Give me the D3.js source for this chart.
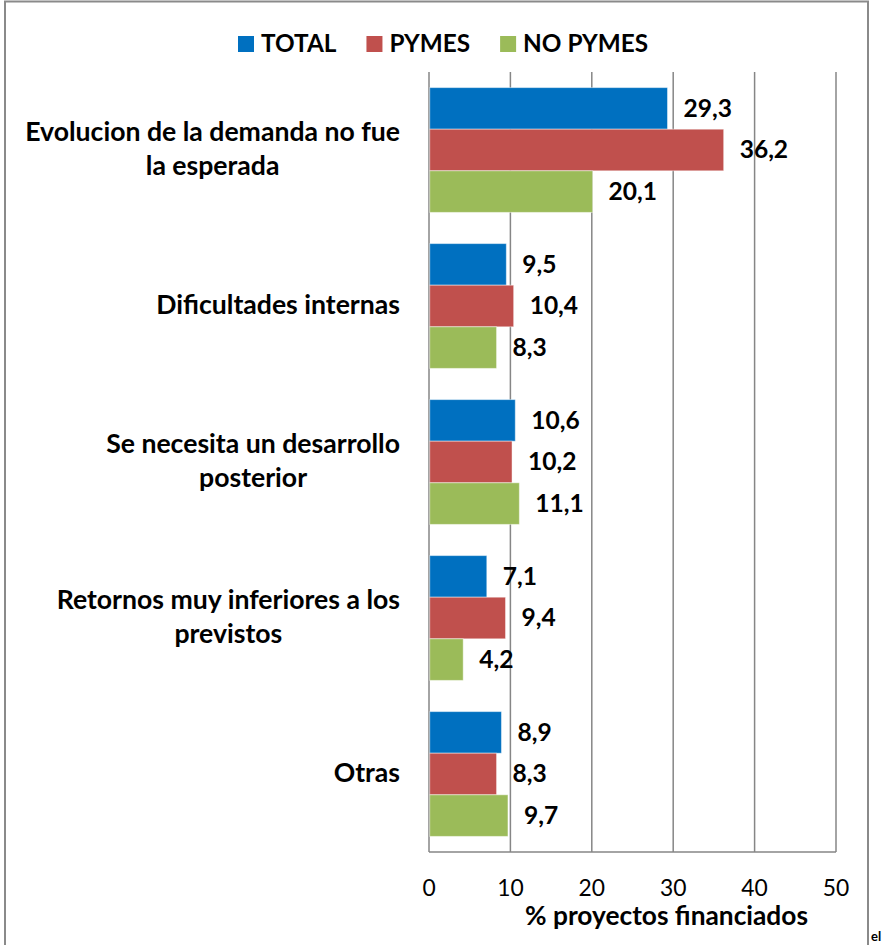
<!DOCTYPE html>
<html>
<head>
<meta charset="utf-8">
<script src="https://cdn.jsdelivr.net/npm/d3@7/dist/d3.min.js"></script>
<style>
  html, body { margin: 0; padding: 0; background: #fff; }
  svg { display: block; }
  text { font-family: Lato, "Open Sans", sans-serif; fill: #000; }
</style>
</head>
<body>
<svg id="chart" width="883" height="945"></svg>
<script>
// ---- data ----
const categories = [
  ["Evolucion de la demanda no fue", "la esperada"],
  ["Dificultades internas"],
  ["Se necesita un desarrollo", "posterior"],
  ["Retornos muy inferiores a los", "previstos"],
  ["Otras"]
];
const seriesNames = ["TOTAL", "PYMES", "NO PYMES"];
const totalValues  = [29.3, 9.5, 10.6, 7.1, 8.9];
const pymesValues  = [36.2, 10.4, 10.2, 9.4, 8.3];
const noPymesValues = [20.1, 8.3, 11.1, 4.2, 9.7];
const xTicks = [0, 10, 20, 30, 40, 50];
const axisTitle = "% proyectos financiados";
const colors = ["#0070C0", "#C0504D", "#9BBB59"];

(function () {
const seriesValues = [totalValues, pymesValues, noPymesValues];
const rows = categories.map((c, i) => ({ idx: i, label: c, vals: seriesValues.map(s => s[i]) }));

const svg = d3.select("#chart");
const fmt = d3.formatLocale({ decimal: ",", thousands: ".", grouping: [3], currency: ["", ""] }).format(".1f");

function fitSize(str, weight, target) {
  const t = svg.append("text").attr("font-size", 100).attr("font-weight", weight).text(str);
  const w = t.node().getComputedTextLength();
  t.remove();
  return 100 * target / w;
}
const catSize = fitSize("Evolucion de la demanda no fue", "bold", 375);
const valSize = fitSize("36,2", "bold", 48.5);
const tickSize = fitSize("50", "normal", 26.5);
const titleSize = fitSize(axisTitle, "bold", 283);
const legSize = fitSize("NO PYMES", "bold", 125);

// frame
svg.append("rect").attr("x", 5).attr("y", 1.5).attr("width", 863).attr("height", 960)
  .attr("fill", "none").attr("stroke", "#8a8a8a").attr("stroke-width", 2);

// scales
const pLeft = 429, pRight = 836, pTop = 72, pBottom = 852;
const x = d3.scaleLinear().domain([0, 50]).range([pLeft, pRight]);
const y = d3.scaleBand().domain(rows.map(r => r.idx)).range([pTop, pBottom]).paddingInner(0.2).paddingOuter(0.1);
const ySub = d3.scaleBand().domain(seriesNames.map((s, i) => i)).range([0, y.bandwidth()]).padding(0);

// gridlines
svg.append("g").selectAll("line").data(xTicks).join("line")
  .attr("x1", d => x(d)).attr("x2", d => x(d))
  .attr("y1", pTop).attr("y2", pBottom)
  .attr("stroke", "#868686").attr("stroke-width", 1.5);
svg.append("line").attr("x1", x(0)).attr("x2", x(50)).attr("y1", pBottom).attr("y2", pBottom)
  .attr("stroke", "#868686").attr("stroke-width", 1.5);

// bars
const groups = svg.append("g").selectAll("g").data(rows).join("g")
  .attr("transform", d => `translate(0,${y(d.idx)})`);
groups.selectAll("rect").data(d => d.vals.map((v, i) => ({ v, i }))).join("rect")
  .attr("x", x(0) + 0.75)
  .attr("y", d => ySub(d.i))
  .attr("width", d => x(d.v) - x(0) - 0.75)
  .attr("height", ySub.bandwidth())
  .attr("fill", d => colors[d.i])
  .attr("stroke", "rgba(255,255,255,0.45)").attr("stroke-width", 1);

// value labels
groups.selectAll("text.val").data(d => d.vals.map((v, i) => ({ v, i }))).join("text")
  .attr("class", "val")
  .attr("x", d => x(d.v) + 16)
  .attr("y", d => ySub(d.i) + ySub.bandwidth() / 2 + 8.5)
  .attr("font-size", valSize).attr("font-weight", "bold")
  .text(d => fmt(d.v));

// category labels
const catX = 400, lineGap = 34;
rows.forEach(r => {
  const cy = y(r.idx) + y.bandwidth() / 2;
  const n = r.label.length;
  const t = svg.append("text").attr("font-size", catSize).attr("font-weight", "bold");
  if (n === 1) {
    t.attr("x", catX).attr("y", cy + 7.5).attr("text-anchor", "end").text(r.label[0]);
  } else {
    const tmp = svg.append("text").attr("font-size", catSize).attr("font-weight", "bold").text(r.label[0]);
    const w = tmp.node().getComputedTextLength(); tmp.remove();
    const center = catX - w / 2;
    r.label.forEach((ln, k) => {
      t.append("tspan").attr("x", center).attr("text-anchor", "middle")
        .attr("y", cy + 7.5 + (k - (n - 1) / 2) * lineGap).text(ln);
    });
  }
});

// x tick labels
svg.append("g").selectAll("text").data(xTicks).join("text")
  .attr("x", d => x(d)).attr("y", 896)
  .attr("text-anchor", "middle").attr("font-size", tickSize)
  .text(d => d);

// axis title
svg.append("text").attr("x", 666.5).attr("y", 924.5).attr("text-anchor", "middle")
  .attr("font-size", titleSize).attr("font-weight", "bold").text(axisTitle);

// legend
let lx = 238;
const leg = svg.append("g");
seriesNames.forEach((s, i) => {
  leg.append("rect").attr("x", lx).attr("y", 36).attr("width", 16).attr("height", 16).attr("fill", colors[i]);
  const t = leg.append("text").attr("x", lx + 23).attr("y", 51.5)
    .attr("font-size", legSize).attr("font-weight", "bold").text(s);
  lx = lx + 23 + t.node().getComputedTextLength() + 30;
});

svg.append("text").attr("x", 871).attr("y", 941).attr("font-size", 13).attr("font-weight", "bold").text("el");
})();
</script>
</body>
</html>
